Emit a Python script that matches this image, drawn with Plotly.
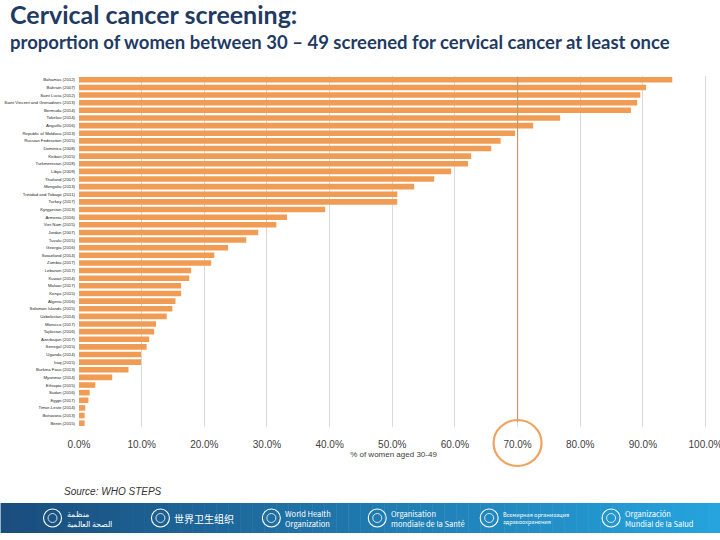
import plotly.graph_objects as go

countries = [
    "Bahamas (2012)", "Bahrain (2007)", "Saint Lucia (2012)", "Saint Vincent and Grenadines (2013)",
    "Bermuda (2014)", "Tokelau (2014)", "Anguilla (2016)", "Republic of Moldova (2013)",
    "Russian Federation (2015)", "Dominica (2008)", "Kiribati (2015)", "Turkmenistan (2018)",
    "Libya (2009)", "Thailand (2007)", "Mongolia (2013)", "Trinidad and Tobago (2011)",
    "Turkey (2017)", "Kyrgyzstan (2013)", "Armenia (2016)", "Viet Nam (2015)",
    "Jordan (2007)", "Tuvalu (2015)", "Georgia (2016)", "Swaziland (2014)",
    "Zambia (2017)", "Lebanon (2017)", "Kuwait (2014)", "Malawi (2017)",
    "Kenya (2015)", "Algeria (2016)", "Solomon Islands (2015)", "Uzbekistan (2014)",
    "Morocco (2017)", "Tajikistan (2016)", "Azerbaijan (2017)", "Senegal (2015)",
    "Uganda (2014)", "Iraq (2015)", "Burkina Faso (2013)", "Myanmar (2014)",
    "Ethiopia (2015)", "Sudan (2016)", "Egypt (2017)", "Timor-Leste (2014)",
    "Botswana (2013)", "Benin (2015)",
]
values = [
    94.7, 90.5, 89.6, 89.1, 88.1, 76.8, 72.5, 69.6,
    67.3, 65.8, 62.6, 62.1, 59.4, 56.7, 53.5, 50.8,
    50.8, 39.3, 33.2, 31.5, 28.6, 26.7, 23.8, 21.6,
    21.1, 17.9, 17.6, 16.3, 16.3, 15.4, 14.9, 14.0,
    12.3, 12.0, 11.2, 10.8, 9.9, 9.9, 7.9, 5.3,
    2.6, 1.7, 1.5, 1.0, 0.9, 0.9,
]
x_ticks = [i / 10 for i in range(11)]
target = 0.70

title_text = "Cervical cancer screening:"
subtitle_text = "proportion of women between 30 – 49 screened for cervical cancer at least once"
source_text = "Source: WHO STEPS"
banner_names = [
    "منظمة<br>الصحة العالمية",
    "世界卫生组织",
    "World Health<br>Organization",
    "Organisation<br>mondiale de la Santé",
    "Всемирная организация<br>здравоохранения",
    "Organización<br>Mundial de la Salud",
]

W, H = 720, 540
L, R, T, B = 78.5, 12, 76, 113
pw, ph = W - L - R, H - T - B
XMAX = 1.004


def px(x):
    return (x - L) / pw


def py(y):
    return (H - B - y) / ph


fig = go.Figure(go.Bar(
    y=countries, x=[v / 100 for v in values], orientation="h",
    marker=dict(color="#F19C55", line=dict(width=0)),
    hoverinfo="x+y", cliponaxis=False,
))

xscale = pw / XMAX  # pixels per unit
shapes = []
# 70% reference line
shapes.append(dict(type="line", xref="x", yref="paper", x0=target, x1=target,
                   y0=py(422), y1=py(77), line=dict(color="#C49A6C", width=1.2)))
# circle around 70% tick
shapes.append(dict(type="circle", xref="x", yref="paper",
                   x0=target - 24 / xscale, x1=target + 24 / xscale, y0=py(466), y1=py(420),
                   line=dict(color="#F0A25E", width=2.2)))
# banner gradient
c0 = (26, 78, 126)
c1 = (38, 164, 222)
n = 60
for i in range(n):
    t = i / (n - 1)
    col = "rgb(%d,%d,%d)" % tuple(int(c0[k] + (c1[k] - c0[k]) * t) for k in range(3))
    shapes.append(dict(type="rect", xref="paper", yref="paper",
                       x0=px(i * W / n), x1=px((i + 1) * W / n + 0.5),
                       y0=py(533), y1=py(503), line=dict(width=0), fillcolor=col, layer="above"))

emblem_x = [52, 160, 271, 377, 489, 611]
text_x = [64, 172, 283, 389, 501, 623]
annotations = []
for ex, tx, name in zip(emblem_x, text_x, banner_names):
    shapes.append(dict(type="circle", xref="paper", yref="paper",
                       x0=px(ex - 9), x1=px(ex + 9), y0=py(527), y1=py(509),
                       line=dict(color="white", width=1.1), layer="above"))
    shapes.append(dict(type="circle", xref="paper", yref="paper",
                       x0=px(ex - 4.5), x1=px(ex + 4.5), y0=py(522.5), y1=py(513.5),
                       line=dict(color="white", width=0.8), layer="above"))
    annotations.append(dict(xref="paper", yref="paper", x=px(tx), y=py(518),
                            xanchor="left", yanchor="middle", showarrow=False, align="left",
                            text=name,
                            font=dict(family="Liberation Sans Narrow, Noto Sans CJK SC",
                                      size=(5.5 if "Всемирная" in name else 7.5) if "<br>" in name else 10,
                                      color="white")))

annotations += [
    dict(xref="paper", yref="paper", x=px(7), y=py(14), xanchor="left", yanchor="middle",
         showarrow=False, text="<b>" + title_text + "</b>",
         font=dict(family="Lato", size=25, color="#1F3B63")),
    dict(xref="paper", yref="paper", x=px(7), y=py(42), xanchor="left", yanchor="middle",
         showarrow=False, text="<b>" + subtitle_text + "</b>",
         font=dict(family="Lato", size=18.5, color="#1F3B63")),
    dict(xref="paper", yref="paper", x=px(61), y=py(491), xanchor="left", yanchor="middle",
         showarrow=False, text="<i>" + source_text + "</i>",
         font=dict(family="Liberation Sans", size=10, color="#333333")),
]

fig.update_layout(
    width=W, height=H,
    margin=dict(l=L, r=R, t=T, b=B, pad=0),
    paper_bgcolor="white", plot_bgcolor="white",
    showlegend=False, bargap=0.27,
    shapes=shapes, annotations=annotations,
    xaxis=dict(range=[0, XMAX], tickvals=x_ticks, tickformat=".1%", automargin=False,
               ticklabeloverflow="allow",
               showgrid=True, gridcolor="#D9D9D9", gridwidth=1, zeroline=False,
               showline=False, ticks="", ticklabelstandoff=10,
               tickfont=dict(family="Liberation Sans Narrow, Liberation Sans", size=10, color="#404040"),
               title=dict(text="% of women aged 30-49", standoff=2,
                          font=dict(family="Liberation Sans Narrow, Liberation Sans", size=8, color="#404040"))),
    yaxis=dict(categoryorder="array", categoryarray=countries, autorange="reversed",
               showgrid=False, zeroline=False, showline=False, ticks="", automargin=False,
               ticklabelstandoff=3,
               tickfont=dict(family="Liberation Sans Narrow, Liberation Sans", size=4.3, color="#222222")),
)

fig.write_html("out.html")
